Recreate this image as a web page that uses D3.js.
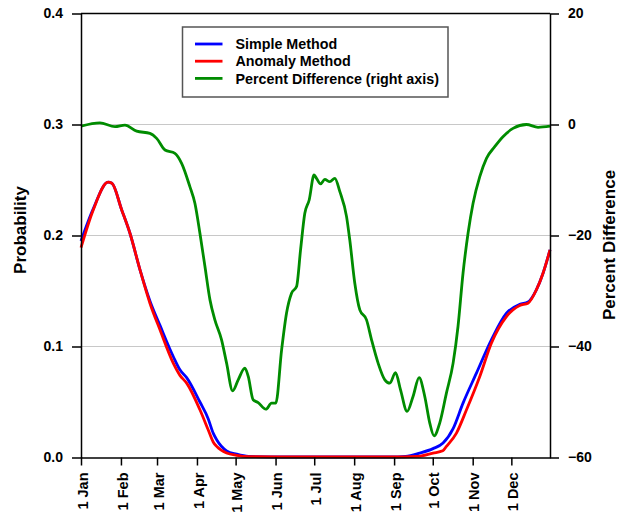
<!DOCTYPE html>
<html>
<head>
<meta charset="utf-8">
<script src="https://cdn.jsdelivr.net/npm/d3@7"></script>
<style>
  body { margin: 0; background: #fff; }
  text { font-family: "Liberation Sans", Arial, Helvetica, sans-serif; font-weight: bold; }
</style>
</head>
<body>
<div id="chart"></div>
<script>
// day-of-year (0 = 1 Jan) for each sample
const simpleDays   = [0, 9.5, 21, 24, 31.6, 38, 45.8, 53.5, 61.3, 71.6, 76.8, 82, 92.3, 98.7, 102.6, 105.3, 113, 120.8, 130, 160, 200, 240, 252, 262.9, 273.2, 281, 288.8, 296.5, 306.9, 318.5, 330.2, 340.5, 346.9, 353.4, 358.6, 364];
const simpleValues = [0.195, 0.224, 0.248, 0.247, 0.223, 0.202, 0.169, 0.141, 0.119, 0.091, 0.079, 0.072, 0.050, 0.035, 0.022, 0.016, 0.006, 0.003, 0.001, 0.0005, 0.0005, 0.0005, 0.001, 0.004, 0.008, 0.013, 0.026, 0.049, 0.076, 0.106, 0.130, 0.138, 0.140, 0.151, 0.166, 0.187];

const anomalyDays   = [0, 9.5, 21, 24, 31.6, 38, 45.8, 53.5, 61.3, 71.6, 76.8, 82, 92.3, 98.7, 102.6, 105.3, 113, 120.8, 130, 160, 200, 240, 260.6, 273.2, 280.8, 283.6, 291.4, 299.2, 309.5, 318.5, 330.2, 340.5, 346.9, 353.4, 358.6, 364];
const anomalyValues = [0.189, 0.223, 0.248, 0.247, 0.223, 0.202, 0.169, 0.139, 0.115, 0.085, 0.074, 0.067, 0.043, 0.025, 0.014, 0.010, 0.004, 0.002, 0.0008, 0.0005, 0.0005, 0.0005, 0.001, 0.004, 0.006, 0.010, 0.022, 0.043, 0.073, 0.103, 0.127, 0.137, 0.139, 0.151, 0.166, 0.187];

const pctDays   = [0, 14.7, 26.4, 34.1, 43.2, 53.5, 58.7, 65.2, 72.9, 78.1, 84.5, 88.4, 92.3, 96.2, 100.1, 103.9, 109.1, 113, 117.7, 122, 127.2, 129.8, 133.6, 137.5, 143.5, 147.9, 151.2, 155.7, 159.5, 163.4, 167.3, 170.4, 173.7, 177.1, 180.9, 182.8, 185.9, 189.2, 193.1, 197, 200.9, 206.1, 208.6, 212.5, 216.4, 221.6, 225.5, 230.6, 235.8, 239.7, 244.1, 248, 253.1, 257.7, 262.4, 266.8, 270.7, 274, 278.4, 283.6, 288.8, 292.6, 296.5, 300.4, 304.3, 309.5, 314.7, 321.1, 327.5, 335.3, 345.7, 354.7, 364];
const pctValues = [-0.3, 0.3, -0.4, -0.1, -1.2, -1.6, -2.5, -4.6, -5.2, -7.0, -11.2, -14.2, -19.6, -25.6, -31.6, -35.2, -38.8, -43.0, -48.0, -46.0, -43.9, -45.4, -49.6, -50.1, -51.3, -50.2, -50.2, -40.6, -34.0, -30.4, -29.2, -22.6, -16.0, -13.6, -9.1, -9.7, -10.7, -9.9, -10.3, -9.7, -12.1, -16.6, -20.8, -28.6, -33.4, -35.2, -38.8, -43.0, -46.0, -46.6, -44.7, -47.8, -51.7, -49.0, -45.6, -49.0, -53.8, -56.1, -53.8, -48.4, -43.0, -36.4, -26.8, -19.6, -14.2, -9.4, -6.1, -4.0, -2.2, -0.7, 0.0, -0.5, -0.3];

const monthDays   = [0, 31, 59, 90, 120, 151, 181, 212, 243, 273, 304, 334];
const monthLabels = ["1 Jan", "1 Feb", "1 Mar", "1 Apr", "1 May", "1 Jun", "1 Jul", "1 Aug", "1 Sep", "1 Oct", "1 Nov", "1 Dec"];
const probTicks = [0, 0.1, 0.2, 0.3, 0.4];
const pctTicks  = [-60, -40, -20, 0, 20];

const seriesNames  = ["Simple Method", "Anomaly Method", "Percent Difference (right axis)"];
const seriesColors = ["#0000ff", "#ff0000", "#008c00"];

const margin = {top: 13.5, right: 77, bottom: 54.5, left: 81};
const W = 627, H = 512;
const width = W - margin.left - margin.right;
const height = H - margin.top - margin.bottom;

const svg = d3.select("#chart").append("svg")
  .attr("width", W)
  .attr("height", H);

const g = svg.append("g")
  .attr("transform", "translate(" + margin.left + "," + margin.top + ")");

const xScale = d3.scaleLinear().domain([0, 364]).range([0, width]);
const yScale = d3.scaleLinear().domain([0, 0.4]).range([height, 0]);
const y2Scale = d3.scaleLinear().domain([-60, 20]).range([height, 0]);

// grid lines
g.append("g").selectAll("line")
  .data(probTicks.slice(1, -1))
  .join("line")
  .attr("x1", 0).attr("x2", width)
  .attr("y1", d => yScale(d)).attr("y2", d => yScale(d))
  .attr("stroke", "#c8c8c8")
  .attr("stroke-width", 1.2);

// lines
const line = (days, vals, yS) => d3.line()
  .x((d, i) => xScale(days[i]))
  .y(d => yS(d))
  .curve(d3.curveMonotoneX)(vals);

g.append("path").attr("d", line(simpleDays, simpleValues, yScale))
  .attr("fill", "none").attr("stroke", seriesColors[0]).attr("stroke-width", 2.8);
g.append("path").attr("d", line(anomalyDays, anomalyValues, yScale))
  .attr("fill", "none").attr("stroke", seriesColors[1]).attr("stroke-width", 2.8);
g.append("path").attr("d", line(pctDays, pctValues, y2Scale))
  .attr("fill", "none").attr("stroke", seriesColors[2]).attr("stroke-width", 2.8);

// axes
const styleAxis = (sel) => {
  sel.select(".domain").attr("stroke", "#000").attr("stroke-width", 1.5);
  sel.selectAll(".tick line").attr("stroke", "#000").attr("stroke-width", 1.5);
  sel.selectAll(".tick text").style("font-size", "14px").attr("fill", "#000");
};

g.append("g")
  .call(d3.axisLeft(yScale).tickValues(probTicks).tickFormat(d3.format(".1f")).tickSize(9).tickSizeOuter(0).tickPadding(9))
  .call(styleAxis);

g.append("g")
  .attr("transform", "translate(" + width + ",0)")
  .call(d3.axisRight(y2Scale).tickValues(pctTicks).tickFormat(d => d < 0 ? "\u2212" + Math.abs(d) : d).tickSize(9).tickSizeOuter(0).tickPadding(9))
  .call(styleAxis);

const xAxisG = g.append("g")
  .attr("transform", "translate(0," + height + ")")
  .call(d3.axisBottom(xScale).tickValues(monthDays).tickFormat((d, i) => monthLabels[i]).tickSize(8).tickSizeOuter(0))
  .call(styleAxis);

xAxisG.selectAll(".tick text")
  .style("font-size", "14.5px")
  .attr("transform", "rotate(-90)")
  .attr("text-anchor", "end")
  .attr("x", -15)
  .attr("y", 0)
  .attr("dy", "0.42em");

// top frame line
g.append("line")
  .attr("x1", 0).attr("x2", width)
  .attr("y1", 0).attr("y2", 0)
  .attr("stroke", "#000").attr("stroke-width", 1.5);

// axis titles
svg.append("text")
  .attr("transform", "translate(26,230) rotate(-90)")
  .attr("text-anchor", "middle")
  .style("font-size", "17px")
  .text("Probability");

svg.append("text")
  .attr("transform", "translate(615,245) rotate(-90)")
  .attr("text-anchor", "middle")
  .style("font-size", "17px")
  .text("Percent Difference");

// legend
const legend = svg.append("g").attr("transform", "translate(182.5,27)");
legend.append("rect")
  .attr("width", 265.5).attr("height", 70)
  .attr("fill", "#fff")
  .attr("stroke", "#555")
  .attr("stroke-width", 1.5);

const legendItems = legend.selectAll(".legendItem")
  .data(seriesNames)
  .join("g")
  .attr("class", "legendItem")
  .attr("transform", (d, i) => "translate(0," + (17 + i * 17.2) + ")");

legendItems.append("line")
  .attr("x1", 12.5).attr("x2", 40)
  .attr("stroke", (d, i) => seriesColors[i])
  .attr("stroke-width", 2.8);

legendItems.append("text")
  .attr("x", 53)
  .attr("dy", "0.36em")
  .style("font-size", "14.3px")
  .text(d => d);
</script>
</body>
</html>
